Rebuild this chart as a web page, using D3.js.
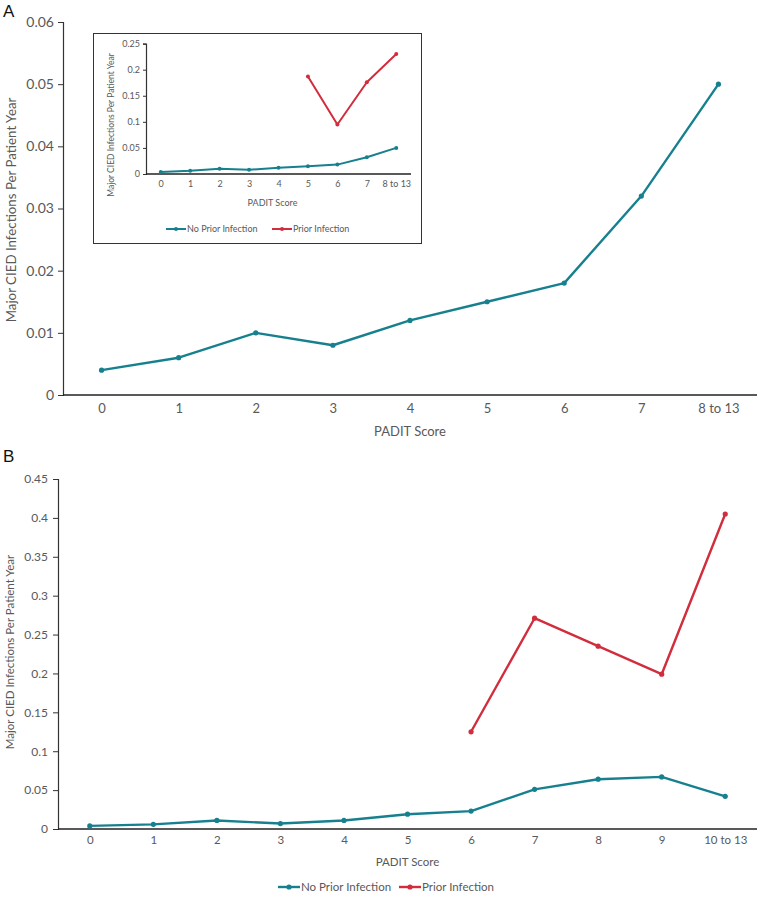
<!DOCTYPE html>
<html><head><meta charset="utf-8">
<script src="https://cdn.jsdelivr.net/npm/d3@7"></script>
<style>body{margin:0;background:#fff}svg{display:block}</style>
</head><body>
<svg id="c" width="760" height="897"></svg>
<script>
const catsA = ["0","1","2","3","4","5","6","7","8 to 13"];
const noPriorA = [0.004,0.006,0.010,0.008,0.012,0.015,0.018,0.032,0.050];
const priorInset = [null,null,null,null,null,0.187,0.095,0.176,0.230];
const ticksA = [0,0.01,0.02,0.03,0.04,0.05,0.06];
const ticksInset = [0,0.05,0.1,0.15,0.2,0.25];
const catsB = ["0","1","2","3","4","5","6","7","8","9","10 to 13"];
const noPriorB = [0.004,0.006,0.011,0.007,0.011,0.019,0.023,0.051,0.064,0.067,0.042];
const priorB = [null,null,null,null,null,null,0.125,0.271,0.235,0.199,0.405];
const ticksB = [0,0.05,0.1,0.15,0.2,0.25,0.3,0.35,0.4,0.45];
const seriesNames = ["No Prior Infection","Prior Infection"];
const colors = ["#17808f","#d12d3d"];
const yTitle = "Major CIED Infections Per Patient Year";
const xTitle = "PADIT Score";

const FONT = "Lato, 'Open Sans', sans-serif";
const TXT = "#595959";
const svg = d3.select("#c");

function panel(o){
  const g = svg.append("g");
  const x = d3.scalePoint().domain(o.cats).range([o.x0,o.x1]).padding(0.5);
  const y = d3.scaleLinear().domain([0,o.ymax]).range([o.y0,o.y1]);
  const ya = g.append("g").attr("transform",`translate(${o.x0},0)`)
    .call(d3.axisLeft(y).tickValues(o.ticks).tickSize(o.tick).tickPadding(o.pad).tickFormat(d=>d3.format("")(+d.toFixed(3))));
  ya.select(".domain").attr("stroke","#333").attr("stroke-width",1.2);
  ya.selectAll(".tick line").attr("stroke","#333");
  ya.selectAll("text").attr("fill",TXT).style("font-family",FONT).style("font-size",(o.yts||o.fs)+"px");
  const xa = g.append("g").attr("transform",`translate(0,${o.y0})`)
    .call(d3.axisBottom(x).tickSize(0).tickPadding(o.xpad));
  xa.select(".domain").attr("stroke","#222").attr("stroke-width",1.5).attr("d",`M${o.x0},0H${o.x1}`);
  xa.selectAll("text").attr("fill",TXT).style("font-family",FONT).style("font-size",o.fs+"px");
  g.append("text").attr("x",(o.x0+o.x1)/2 + (o.xtOff||0)).attr("y",o.xtY).attr("text-anchor","middle")
    .attr("fill",TXT).style("font-family",FONT).style("font-size",o.fs+"px").text(xTitle);
  g.append("text").attr("transform",`translate(${o.ytX},${o.ytY}) rotate(-90)`).attr("text-anchor","middle")
    .attr("fill",TXT).style("font-family",FONT).style("font-size",o.yfs+"px").text(yTitle);
  o.series.forEach((s,i)=>{
    if(!s) return;
    const pts = s.map((v,j)=>[o.cats[j],v]).filter(d=>d[1]!=null);
    g.append("path").datum(pts).attr("fill","none").attr("stroke",colors[i]).attr("stroke-width",o.sw)
      .attr("stroke-linejoin","round")
      .attr("d",d3.line().x(d=>x(d[0])).y(d=>y(d[1])));
    g.selectAll(null).data(pts).enter().append("circle").attr("cx",d=>x(d[0])).attr("cy",d=>y(d[1]))
      .attr("r",o.r).attr("fill",colors[i]);
  });
  if(o.legY!=null){
    o.legItems.forEach((it,i)=>{
      const lx = it.x;
      g.append("line").attr("x1",lx).attr("x2",lx+o.legLen).attr("y1",o.legY).attr("y2",o.legY)
        .attr("stroke",colors[i]).attr("stroke-width",o.sw);
      g.append("circle").attr("cx",lx+o.legLen/2).attr("cy",o.legY).attr("r",o.r).attr("fill",colors[i]);
      g.append("text").attr("x",lx+o.legLen+1).attr("y",o.legY).attr("dy","0.35em")
        .attr("fill",TXT).style("font-family",FONT).style("font-size",o.fs+"px").text(seriesNames[i]);
    });
  }
}

panel({cats:catsA,x0:63,x1:757,y0:395,y1:22,ymax:0.06,ticks:ticksA,tick:5,pad:4,xpad:9,fs:13,yts:14,yfs:13.3,
  xtY:436,ytX:16,ytY:210,series:[noPriorA,null],sw:2.4,r:2.6});

svg.append("rect").attr("x",93.5).attr("y",33.5).attr("width",328).attr("height",210)
  .attr("fill","#fff").attr("stroke","#333").attr("stroke-width",1);
panel({cats:catsA,x0:146,x1:411,y0:174,y1:43.6,ymax:0.25,ticks:ticksInset,tick:3,pad:3,xpad:7,fs:9,yfs:8.5,
  xtY:206,xtOff:-6,ytX:114,ytY:125,series:[noPriorA,priorInset],sw:2,r:2,
  legY:229,legLen:20,legItems:[{x:166},{x:272}]});

panel({cats:catsB,x0:58,x1:757,y0:829,y1:479,ymax:0.45,ticks:ticksB,tick:5,pad:5,xpad:7,fs:11.5,yts:12,yfs:11.5,
  xtY:866,ytX:14,ytY:652,series:[noPriorB,priorB],sw:2.4,r:2.6,
  legY:887,legLen:22,legItems:[{x:278},{x:399}]});

svg.append("text").attr("x",3).attr("y",17).style("font-family","'Liberation Sans',Arial,sans-serif").style("font-size","17px").attr("fill","#111").text("A");
svg.append("text").attr("x",3).attr("y",462).style("font-family","'Liberation Sans',Arial,sans-serif").style("font-size","17px").attr("fill","#111").text("B");
</script>
</body></html>
